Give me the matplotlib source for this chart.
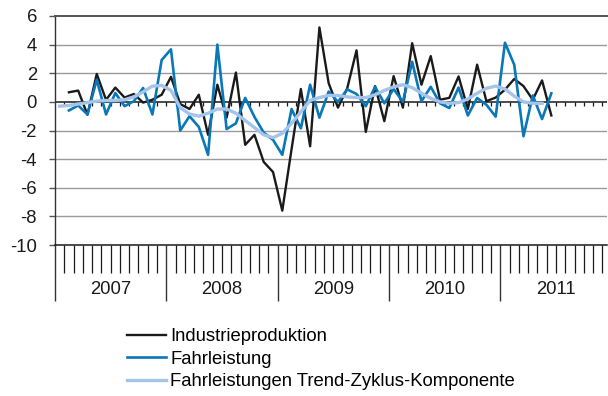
import matplotlib
matplotlib.use("Agg")
import matplotlib.pyplot as plt
import matplotlib.transforms as mtransforms
import numpy as np

plt.rcParams["font.family"] = ["Liberation Sans", "DejaVu Sans"]
plt.rcParams["axes.unicode_minus"] = False

# Monatswerte, Feb 2007 - Jun 2011
industrie = [0.67, 0.79, -0.9, 1.95, 0.14, 1.0, 0.3, 0.55, -0.05, 0.15, 0.5,
             1.75, -0.15, -0.5, 0.5, -2.3, 1.2, -1.1, 2.05, -3.0, -2.3, -4.2, -4.9,
             -7.6, -3.3, 0.9, -3.1, 5.2, 1.3, -0.4, 0.95, 3.6, -2.1, 1.1, -1.35,
             1.8, -0.4, 4.1, 1.2, 3.2, 0.15, 0.28, 1.78, -0.5, 2.6, 0.05, 0.3,
             0.85, 1.6, 1.1, 0.15, 1.5, -0.95]
fahrleistung = [-0.6, -0.25, -0.88, 1.55, -0.88, 0.62, -0.3, 0.05, 0.97, -0.88,
                2.93, 3.67, -2.0, -1.0, -1.75, -3.7, 4.0, -1.9, -1.5, 0.28, -1.05,
                -2.15, -2.65, -3.7, -0.5, -1.85, 1.2, -1.1, 0.72, 0.0, 0.87, 0.55,
                -0.3, 1.05, -0.1, 0.9, 0.0, 2.8, 0.05, 1.05, -0.1, -0.43, 1.0,
                -0.95, 0.27, -0.2, -1.03, 4.13, 2.6, -2.4, 0.45, -1.2, 0.6]
# Trend-Zyklus-Komponente, Jan 2007 - Mai 2011
trend = [-0.3, -0.25, -0.15, -0.05, 0.05, 0.1, 0.1, 0.15, 0.35, 0.7, 1.1, 1.15,
         0.8, -0.4, -0.85, -1.0, -0.8, -0.5, -0.5, -0.8, -1.3, -1.8, -2.3, -2.5,
         -2.2, -1.5, -0.7, 0.1, 0.3, 0.45, 0.45, 0.35, 0.3, 0.3, 0.5, 0.8, 1.05,
         1.2, 1.0, 0.6, 0.25, 0.0, -0.1, -0.05, 0.2, 0.6, 0.95, 1.1, 0.9, 0.4,
         0.0, -0.1, -0.1]
jahre = ["2007", "2008", "2009", "2010", "2011"]

BLACK = "#1a1a1a"
BLUE = "#0a77b8"
LIGHT = "#a6c3ea"
FS = 13.3

fig = plt.figure(figsize=(6.08, 3.96), dpi=100)
ax = fig.add_axes([55 / 608, 1 - 245 / 396, 552 / 608, 229 / 396])

# x: Monatsindex, Punkte in der Monatsmitte
x_ind = np.arange(1, 1 + len(industrie)) + 0.5
x_fahr = np.arange(1, 1 + len(fahrleistung)) + 0.5
x_trend = np.arange(len(trend)) + 0.5

ax.set_xlim(0, 59.5)
ax.set_ylim(-10, 6)

# Gitter
for v in range(-8, 6, 2):
    if v == 0:
        continue
    ax.axhline(v, color="#9a9a9a", lw=1.0, zorder=1)
ax.axhline(0, color=BLACK, lw=1.1, zorder=2)
monate = np.arange(1, 60)
ax.vlines(monate, -0.28, 0, color=BLACK, lw=0.9, zorder=2)

ax.plot(x_ind, industrie, color=BLACK, lw=1.7, zorder=3,
        label="Industrieproduktion")
ax.plot(x_fahr, fahrleistung, color=BLUE, lw=1.9, zorder=4,
        label="Fahrleistung")
ax.plot(x_trend, trend, color=LIGHT, lw=2.4, zorder=5,
        label="Fahrleistungen Trend-Zyklus-Komponente")

# Achsen
ax.spines["right"].set_visible(False)
ax.spines["top"].set_color("#555555")
ax.spines["top"].set_linewidth(1.4)
ax.spines["left"].set_color("#333333")
ax.spines["left"].set_linewidth(1.0)
ax.spines["bottom"].set_color(BLACK)
ax.spines["bottom"].set_linewidth(1.1)

ax.set_yticks(range(-10, 7, 2))
ax.tick_params(axis="y", length=4, width=1.0, color="#555555", pad=9,
               labelsize=FS, labelcolor="#1a1a1a")

ax.set_xticks([0, 12, 24, 36, 48])
ax.set_xticks(monate[monate % 12 != 0], minor=True)
ax.tick_params(axis="x", which="major", length=40, width=1.0, color="#333333",
               labelbottom=False)
ax.tick_params(axis="x", which="minor", length=20, width=0.9, color=BLACK)

trans = mtransforms.blended_transform_factory(ax.transData, fig.transFigure)
for i, j in enumerate(jahre):
    ax.text(6 + 12 * i, 1 - 289 / 396, j, transform=trans, ha="center",
            va="center", fontsize=FS, color="#1a1a1a")

fig.legend(loc="upper left", bbox_to_anchor=(127 / 608, 1 - 328 / 396),
           frameon=False, fontsize=FS, handlelength=2.1, handletextpad=0.25,
           labelspacing=0.3, borderpad=0, borderaxespad=0)

fig.savefig("out.png", dpi=100)
